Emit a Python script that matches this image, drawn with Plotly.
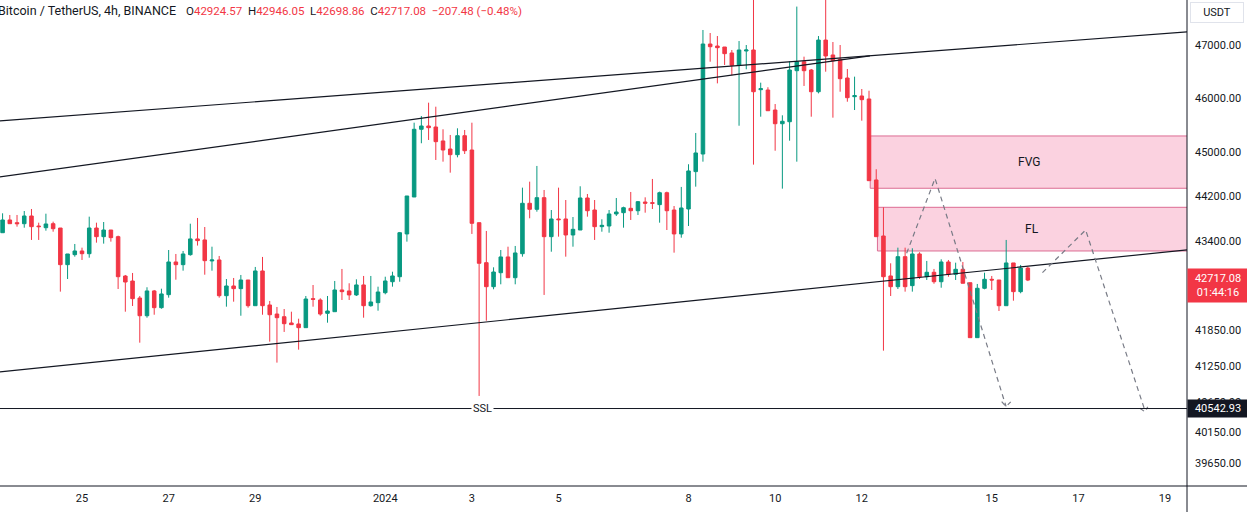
import numpy as np
import pandas as pd
import plotly.graph_objects as go

# ---------------- data (BTC/USDT, 4h, BINANCE) ----------------
first_candle = "2023-12-23 04:00"
opens = [43547, 43773, 43725, 43707, 43844, 43666, 43636, 43707, 43630, 42985,
         43160, 43225, 43177, 43630, 43477, 43595, 43477, 42787, 42700, 42406,
         42102, 42528, 42240, 42464, 43032, 42985, 43160, 43437, 43419, 43050,
         43067, 42446, 42614, 42568, 42718, 42274, 42875, 42286, 42131, 42085,
         41978, 41961, 41898, 42395, 42372, 42143, 42171, 42545, 42528, 42459,
         42632, 42274, 42326, 42498, 42688, 42775, 43525, 44184, 45417, 45478,
         45459, 45202, 45054, 44951, 45299, 45036, 43725, 43020, 42602, 42845,
         43120, 42758, 43177, 44071, 43963, 44172, 43477, 43791, 43791, 43507,
         43595, 44166, 43951, 43654, 43666, 43880, 43903, 43981, 43938, 44094,
         44082, 44047, 44261, 43951, 43525, 43969, 44642, 44963, 47019, 46981,
         46962, 46848, 46614, 46886, 46905, 46154, 46148, 45774, 45520, 45557,
         46512, 46682, 46525, 46116, 47095, 46810, 46727, 46374, 46023, 46036,
         45980, 44491, 43489, 42788, 42602, 43125, 42620, 43172, 42775, 42852,
         42688, 43032, 42817, 42904, 42671, 41728, 42574, 42730, 42718, 42274,
         43015, 42516, 42924.57]
highs = [43892, 43862, 43862, 43933, 43969, 43725, 43885, 43743, 43630, 43172,
         43348, 43283, 43832, 43725, 43737, 43595, 43495, 42805, 42840, 42441,
         42592, 42545, 42567, 43242, 43172, 43225, 43707, 43809, 43648, 43300,
         43137, 42735, 42753, 42805, 42718, 42945, 43120, 42355, 42252, 42217,
         42171, 42051, 42441, 42631, 42401, 42441, 42701, 42910, 42661, 42730,
         42788, 42788, 42602, 42775, 42862, 43560, 44202, 45539, 45663, 45911,
         45836, 45417, 45312, 45435, 45404, 45539, 43725, 43578, 42939, 43242,
         43300, 43313, 44352, 44460, 44745, 44310, 43951, 44352, 44130, 43826,
         44377, 44238, 44130, 43785, 43951, 44166, 44010, 44274, 44112, 44178,
         44509, 44280, 44280, 44022, 44365, 44776, 45349, 47288, 47230, 47172,
         46962, 46905, 47076, 47000, 48000, 46286, 46200, 45886, 45676, 46690,
         47740, 46778, 46544, 47172, 48000, 47057, 47000, 46544, 46399, 46167,
         46135, 44685, 43999, 43009, 43283, 43283, 43272, 43202, 43050, 42910,
         43079, 43067, 43020, 43032, 42671, 42649, 42845, 42788, 42718, 43419,
         43015, 42980, 42946.05]
lows = [43547, 43707, 43654, 43636, 43419, 43419, 43583, 43565, 42516, 42735,
        43125, 43067, 43107, 43371, 43354, 43389, 42562, 42171, 42269, 41643,
        42068, 42119, 42222, 42412, 42723, 42880, 43142, 43320, 42810, 42880,
        42412, 42257, 42343, 42102, 42240, 42274, 42119, 41660, 41307, 41825,
        41944, 41525, 41898, 42257, 42102, 41983, 42171, 42372, 42372, 42441,
        42068, 42257, 42188, 42470, 42602, 42688, 43389, 44184, 45160, 45220,
        44854, 44823, 44623, 44902, 44963, 43525, 40751, 42017, 42557, 42643,
        42758, 42643, 43125, 43803, 43921, 42459, 43212, 43477, 43125, 43300,
        43595, 43832, 43419, 43565, 43547, 43844, 43636, 43773, 43862, 43903,
        43969, 43725, 43595, 43195, 43459, 43666, 44370, 44823, 46682, 46273,
        46620, 46425, 45483, 46538, 44769, 45650, 45761, 45023, 44334, 45207,
        44823, 46224, 45650, 46085, 46493, 45632, 46116, 45929, 45774, 45576,
        44478, 43477, 41508, 42441, 42562, 42516, 42516, 42735, 42718, 42653,
        42584, 42775, 42718, 42661, 41728, 41728, 42557, 42545, 42183, 42274,
        42360, 42488, 42698.86]
closes = [43773, 43707, 43707, 43844, 43654, 43654, 43702, 43618, 42985, 43172,
          43225, 43177, 43630, 43477, 43595, 43460, 42775, 42683, 42395, 42102,
          42528, 42240, 42476, 43032, 42985, 43172, 43437, 43407, 43055, 43067,
          42446, 42614, 42568, 42718, 42274, 42875, 42274, 42119, 42068, 41966,
          41949, 41898, 42389, 42384, 42131, 42183, 42545, 42516, 42459, 42632,
          42274, 42338, 42510, 42701, 42788, 43547, 44202, 45417, 45478, 45447,
          45189, 45036, 44951, 45299, 45023, 43714, 43009, 42602, 42857, 43120,
          42758, 43190, 44071, 43963, 44172, 43477, 43791, 43778, 43507, 43607,
          44166, 43938, 43654, 43678, 43880, 43915, 43992, 43938, 44100, 44071,
          44071, 44261, 43938, 43525, 43987, 44654, 44982, 47019, 46968, 46949,
          46835, 46614, 46905, 46905, 46116, 46173, 45761, 45520, 45565, 46525,
          46682, 46512, 46116, 47095, 46791, 46701, 46361, 46004, 46042, 45967,
          44478, 43477, 42775, 42602, 43125, 42602, 43172, 42775, 42852, 42688,
          43032, 42817, 42904, 42661, 41728, 42574, 42730, 42718, 42274, 43015,
          42516, 42925, 42717.08]

last_open, last_high, last_low, last_close = 42924.57, 42946.05, 42698.86, 42717.08
change, change_pct = -207.48, -0.48
countdown = "01:44:16"
ssl_level = 40542.93

x_tickvals = ["2023-12-25", "2023-12-27", "2023-12-29", "2024-01-01", "2024-01-03",
              "2024-01-05", "2024-01-08", "2024-01-10", "2024-01-12", "2024-01-15",
              "2024-01-17", "2024-01-19"]
x_ticktext = ["25", "27", "29", "2024", "3", "5", "8", "10", "12", "15", "17", "19"]
y_tickvals = [39650, 40150, 40650, 41250, 41850, 43400, 44200, 45000, 46000, 47000]

# drawings (time, price anchors)
upper_line_t = ["2023-12-23 00:00", "2024-01-20 00:00"]
upper_line_p = [45565, 47281]
middle_line_t = ["2023-12-23 00:00", "2024-01-12 04:30"]
middle_line_p = [44534, 46794]
lower_line_t = ["2023-12-23 00:00", "2024-01-20 00:00"]
lower_line_p = [41142, 43283]

fvg_t0, fvg_top, fvg_bot = "2024-01-12 04:40", 45294, 44341
fl_t0, fl_top, fl_bot = "2024-01-12 08:40", 43999, 43225

path1_t = ["2024-01-13 00:50", "2024-01-13 16:35", "2024-01-15 07:55"]
path1_p = [43184, 44518, 40578]
head1_t = ["2024-01-15 05:30", "2024-01-15 07:55", "2024-01-15 10:30"]
head1_p = [40657, 40575, 40652]
path2_t = ["2024-01-16 04:05", "2024-01-17 04:00", "2024-01-18 12:55"]
path2_p = [42845, 43595, 40504]
head2_t = ["2024-01-18 10:05", "2024-01-18 12:55", "2024-01-18 14:25"]
head2_p = [40548, 40488, 40570]

# ---------------- figure ----------------
UP, DOWN, INK = "#089981", "#f23645", "#131722"
FONT = "Roboto"

times = pd.date_range(first_candle, periods=len(opens), freq="4h")

fig = go.Figure()
fig.add_trace(go.Candlestick(
    x=times, open=opens, high=highs, low=lows, close=closes,
    increasing=dict(line=dict(color=UP, width=1), fillcolor=UP),
    decreasing=dict(line=dict(color=DOWN, width=1), fillcolor=DOWN),
    whiskerwidth=0, hoverinfo="skip", showlegend=False,
))

for t, p in [(upper_line_t, upper_line_p), (middle_line_t, middle_line_p), (lower_line_t, lower_line_p)]:
    fig.add_trace(go.Scatter(x=t, y=p, mode="lines", line=dict(color=INK, width=1.2),
                             hoverinfo="skip", showlegend=False))

for t, p in [(path1_t, path1_p), (head1_t, head1_p), (path2_t, path2_p), (head2_t, head2_p)]:
    fig.add_trace(go.Scatter(x=t, y=p, mode="lines",
                             line=dict(color="#787b86", width=1.2, dash="5px,4px"),
                             hoverinfo="skip", showlegend=False))

x_end = "2024-01-25"
shapes = [
    dict(type="rect", xref="x", yref="y", x0=fvg_t0, x1=x_end, y0=fvg_bot, y1=fvg_top,
         fillcolor="rgba(233,30,99,0.2)", line=dict(color="#dc6c93", width=1), layer="below"),
    dict(type="rect", xref="x", yref="y", x0=fl_t0, x1=x_end, y0=fl_bot, y1=fl_top,
         fillcolor="rgba(233,30,99,0.2)", line=dict(color="#dc6c93", width=1), layer="below"),
    dict(type="line", xref="paper", yref="y", x0=0, x1=1, y0=ssl_level, y1=ssl_level,
         line=dict(color=INK, width=1)),
    # frame lines of the price / time scales
    dict(type="line", xref="paper", yref="paper", x0=0, x1=1.06, y0=0, y1=0,
         line=dict(color=INK, width=1)),
    dict(type="line", xref="paper", yref="paper", x0=1, x1=1, y0=-0.06, y1=1,
         line=dict(color=INK, width=1)),
]

def ly(v):
    return float(np.log10(v))

def mid_time(a, b):
    ta, tb = pd.Timestamp(a), pd.Timestamp(b)
    return ta + (tb - ta) / 2

range_end = "2024-01-19 12:10"
gap = "&nbsp;&nbsp;"
title_text = "Bitcoin / TetherUS, 4h, BINANCE"
ohlc_text = (
    f"O<span style='color:{DOWN}'>{last_open:.2f}</span>{gap}"
    f"H<span style='color:{DOWN}'>{last_high:.2f}</span>{gap}"
    f"L<span style='color:{DOWN}'>{last_low:.2f}</span>{gap}"
    f"C<span style='color:{DOWN}'>{last_close:.2f}</span>{gap}"
    f"<span style='color:{DOWN}'>{change:.2f} ({change_pct:.2f}%)</span>"
).replace("-", "\u2212")

annotations = [
    dict(text=title_text, xref="paper", yref="paper", x=0, y=1, xanchor="left", yanchor="top",
         xshift=-4, yshift=-1, showarrow=False, font=dict(family=FONT, size=12.5, color=INK)),
    dict(text=ohlc_text, xref="paper", yref="paper", x=0, y=1, xanchor="left", yanchor="top",
         xshift=184, yshift=-1.5, showarrow=False, font=dict(family=FONT, size=11.5, color=INK)),
    dict(text="FVG", xref="x", yref="y", x=mid_time(fvg_t0, range_end),
         y=(ly(fvg_top) + ly(fvg_bot)) / 2, showarrow=False,
         font=dict(family=FONT, size=12, color=INK)),
    dict(text="FL", xref="x", yref="y", x=mid_time(fl_t0, range_end),
         y=(ly(fl_top) + ly(fl_bot)) / 2, showarrow=False,
         font=dict(family=FONT, size=12, color=INK)),
    dict(text="SSL", xref="x", yref="y", x="2024-01-03 06:00", y=ly(ssl_level),
         showarrow=False, bgcolor="white", borderpad=1,
         font=dict(family=FONT, size=11, color=INK)),
    dict(text=f"{last_close:.2f}<br>{countdown}", xref="paper", yref="y", x=1, y=ly(last_close),
         xanchor="left", yanchor="top", yshift=12, xshift=0, showarrow=False,
         bgcolor=DOWN, borderpad=3, width=54, align="center",
         font=dict(family=FONT, size=11, color="white")),
    dict(text=f"{ssl_level:.2f}", xref="paper", yref="y", x=1, y=ly(ssl_level),
         xanchor="left", yanchor="middle", showarrow=False,
         bgcolor=INK, borderpad=2, width=56, align="center",
         font=dict(family=FONT, size=11, color="white")),
    dict(text="USDT", xref="paper", yref="paper", x=1, y=1, xanchor="left", yanchor="top",
         xshift=3, yshift=-2, showarrow=False, bgcolor="white", bordercolor="#e0e3eb",
         borderwidth=1, borderpad=3, width=46, align="center",
         font=dict(family=FONT, size=11, color=INK)),
]

fig.update_layout(
    width=1247, height=512,
    margin=dict(l=0, r=60, t=0, b=26, autoexpand=False),
    paper_bgcolor="white", plot_bgcolor="white",
    showlegend=False, hovermode=False,
    shapes=shapes, annotations=annotations,
    font=dict(family=FONT, size=11, color=INK),
    xaxis=dict(type="date", range=["2023-12-23 02:34", range_end],
               tickvals=x_tickvals, ticktext=x_ticktext, showgrid=False, zeroline=False,
               showline=False, ticks="", rangeslider=dict(visible=False), automargin=False,
               tickfont=dict(family=FONT, size=11, color=INK), ticklabelstandoff=4),
    yaxis=dict(type="log", side="right", range=[np.log10(39286), np.log10(47868)],
               tickvals=y_tickvals, ticktext=[f"{v:.2f}" for v in y_tickvals],
               showgrid=False, zeroline=False, showline=False, ticks="", automargin=False,
               tickfont=dict(family=FONT, size=11, color=INK), ticklabelstandoff=7),
)

fig.write_html("out.html")
